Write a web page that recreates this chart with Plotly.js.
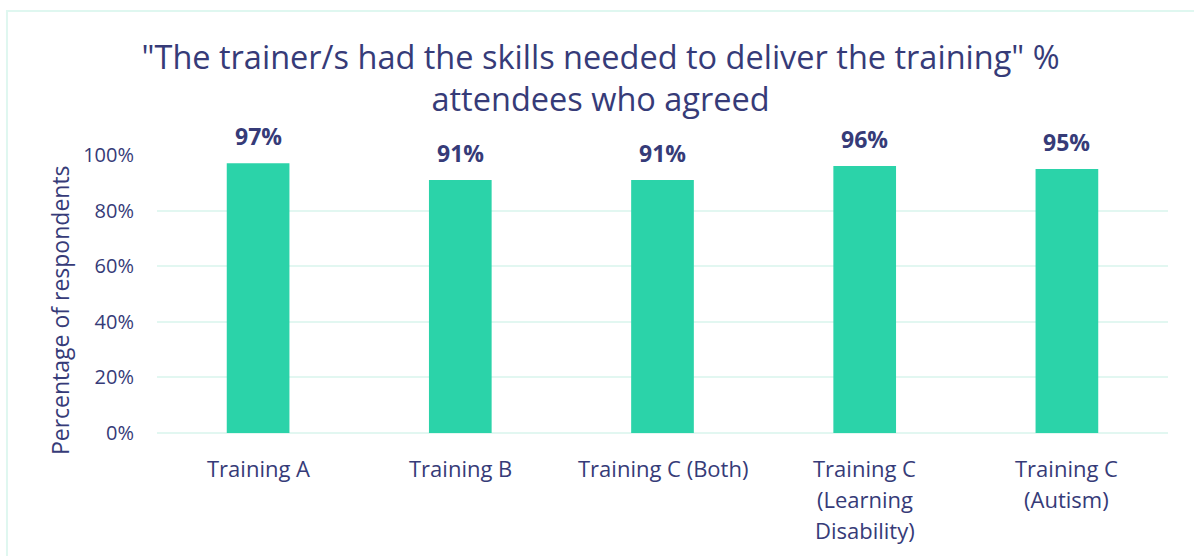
<!DOCTYPE html>
<html>
<head>
<meta charset="utf-8">
<script src="https://cdn.plot.ly/plotly-3.0.1.min.js"></script>
<style>html,body{margin:0;padding:0;background:#fff;}#chart{width:1194px;height:556px;}</style>
</head>
<body>
<div id="chart"></div>
<script>
const categories = ["Training A", "Training B", "Training C (Both)", "Training C (Learning Disability)", "Training C (Autism)"];
const tickLines = [["Training A"], ["Training B"], ["Training C (Both)"], ["Training C", "(Learning", "Disability)"], ["Training C", "(Autism)"]];
const values = [0.97, 0.91, 0.91, 0.96, 0.95];
const valueLabels = ["97%", "91%", "91%", "96%", "95%"];
const titleText = '"The trainer/s had the skills needed to deliver the training" %<br>attendees who agreed';
const yTitle = "Percentage of respondents";

const navy = "#363b78";
const barColor = "#2bd3a9";
const grid = "#e2f7f1";
const font = "Open Sans, sans-serif";

const annotations = [];
categories.forEach((c, i) => {
  annotations.push({x: c, y: values[i], xref: "x", yref: "y", text: "<b>" + valueLabels[i] + "</b>",
    showarrow: false, yanchor: "middle", yshift: 27, font: {family: font, size: 23, color: navy}});
  tickLines[i].forEach((line, j) => {
    annotations.push({x: c, y: 0, xref: "x", yref: "y", text: line, showarrow: false,
      yanchor: "middle", yshift: -35 - 31 * j, font: {family: font, size: 22, color: navy}});
  });
});
annotations.push({x: -0.096, y: 0.442, xref: "paper", yref: "paper", text: yTitle, textangle: -90,
  showarrow: false, xanchor: "center", yanchor: "middle", font: {family: font, size: 23, color: navy}});

const data = [{
  type: "bar", x: categories, y: values, marker: {color: barColor}, hoverinfo: "skip"
}];

const layout = {
  width: 1194, height: 556,
  margin: {l: 157, r: 26, t: 155, b: 123},
  paper_bgcolor: "#fff", plot_bgcolor: "#fff",
  showlegend: false,
  bargap: 0.69,
  title: {text: titleText, x: 0.503, xanchor: "center", y: 0.876, yanchor: "middle",
    font: {family: font, size: 32.5, color: navy}},
  xaxis: {showticklabels: false, showgrid: false, zeroline: false, showline: false, ticks: ""},
  yaxis: {range: [0, 1], dtick: 0.2, tickformat: ".0%", showgrid: true, gridcolor: grid, gridwidth: 2,
    zeroline: true, zerolinecolor: grid, zerolinewidth: 2, showline: false, ticks: "",
    ticklen: 0, ticklabelstandoff: 22,
    tickfont: {family: font, size: 20, color: navy}},
  annotations: annotations,
  shapes: [{type: "rect", xref: "paper", yref: "paper", x0: -0.1484, x1: 1.1, y0: -0.7, y1: 1.518,
    line: {color: "#dff7f0", width: 2}, fillcolor: "rgba(0,0,0,0)", layer: "below"}]
};

Plotly.newPlot("chart", data, layout, {displayModeBar: false, staticPlot: true});
</script>
</body>
</html>
